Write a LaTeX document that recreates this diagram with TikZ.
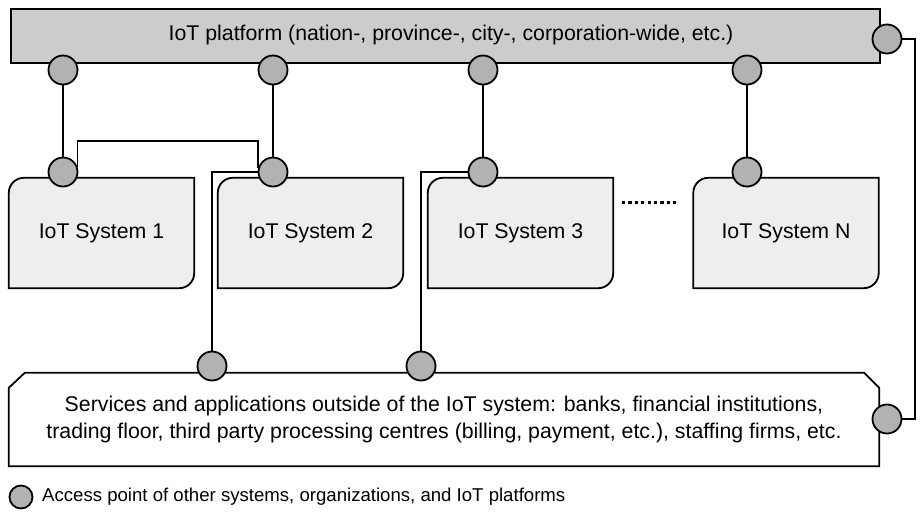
\documentclass[tikz,border=0pt]{standalone}
\usepackage{fontspec}
\setmainfont{Liberation Sans}
\usetikzlibrary{backgrounds}
\definecolor{bargray}{HTML}{CCCCCC}
\definecolor{apgray}{HTML}{B2B2B2}
\definecolor{sysgray}{HTML}{EEEEEE}
\begin{document}
\begin{tikzpicture}[x=1pt,y=-1pt,
  ap/.style={circle,draw,line width=1.8pt,fill=apgray,minimum size=29pt,inner sep=0pt},
  conn/.style={line width=1.4pt},
  boxline/.style={line width=1.8pt},
  lbl/.style={font=\fontsize{21.3}{26.5}\selectfont, align=center, inner sep=0pt},
  sysbox/.style={lbl, minimum width=185pt, minimum height=110pt}]
\useasboundingbox (0,0) rectangle (921,515);
% platform bar
\node[draw, boxline, fill=bargray, minimum width=869pt, minimum height=54pt, inner sep=0pt, anchor=north west] (plat) at (10,8) {};
\node[lbl] (plattext) at (451,35) {IoT platform (nation-, province-, city-, corporation-wide, etc.)};
% system boxes
\node[sysbox] (s1) at (101.5,233) {IoT System 1};
\node[sysbox] (s2) at (310.5,233) {IoT System 2};
\node[sysbox] (s3) at (520.5,233) {IoT System 3};
\node[sysbox] (sN) at (786,233) {IoT System N};
% services box
\node[lbl, minimum width=870pt, minimum height=93pt] (svc) at (444,419.5)
  {Services and applications outside of the IoT system: banks, financial institutions,\\
   trading floor, third party processing centres (billing, payment, etc.), staffing firms, etc.};
\begin{scope}[on background layer]
\foreach \n in {s1,s2,s3,sN}{
  \draw[boxline, fill=sysgray] (\n.south west) -- ([yshift=-15pt]\n.north west)
    arc[start angle=180, end angle=90, radius=15pt] -- (\n.north east)
    -- ([yshift=15pt]\n.south east) arc[start angle=0, end angle=-90, radius=15pt] -- cycle;
}
\draw[boxline, fill=white] (svc.south west) -- ([yshift=-15pt]svc.north west)
  -- ([xshift=16pt]svc.north west) -- ([xshift=-15pt]svc.north east)
  -- ([yshift=-15pt]svc.north east) -- (svc.south east) -- cycle;
\end{scope}
% access points
\node[ap] (t1) at (63,70) {};
\node[ap] (t2) at (273,70) {};
\node[ap] (t3) at (483,70) {};
\node[ap] (t4) at (747,70) {};
\node[ap] (tR) at (887,39) {};
\node[ap] (b1) at (63,172) {};
\node[ap] (b2) at (273,172) {};
\node[ap] (b3) at (483,172) {};
\node[ap] (b4) at (747,172) {};
\node[ap] (c1) at (212,366) {};
\node[ap] (c2) at (421,366) {};
\node[ap] (cR) at (887,419) {};
% connectors
\coordinate (k1) at (160,141);
\coordinate (kR) at (915,230);
\draw[conn] (t1) -- (b1);
\draw[conn] (t2) -- (b2);
\draw[conn] (t3) -- (b3);
\draw[conn] (t4) -- (b4);
\draw[conn] (b1.20) |- (k1) -| (b2.165);
\draw[conn] (c1.north) |- (b2.west);
\draw[conn] (c2.north) |- (b3.west);
\draw[conn] (tR.east) -| (kR) |- (cR.east);
% ellipsis between systems
\coordinate (d1) at (622,202);
\coordinate (d2) at (678,202);
\draw[line width=3pt, dash pattern=on 3.2pt off 3.2pt] (d1) -- (d2);
% legend
\node[ap, minimum size=23pt] (leg) at (21,497) {};
\node[font=\fontsize{18.6}{22}\selectfont, anchor=west, inner sep=0pt] (legtext) at (42,497)
  {Access point of other systems, organizations, and IoT platforms};
\end{tikzpicture}
\end{document}
